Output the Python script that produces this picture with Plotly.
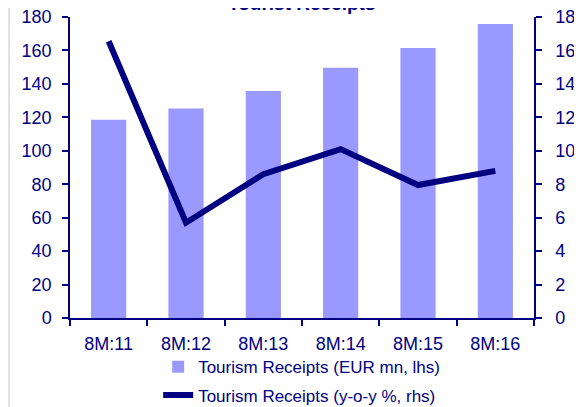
import plotly.graph_objects as go

categories = ["8M:11", "8M:12", "8M:13", "8M:14", "8M:15", "8M:16"]
receipts_eur_mn = [118.5, 125.3, 135.8, 149.6, 161.4, 175.8]
receipts_yoy_pct = [16.55, 5.7, 8.6, 10.1, 7.95, 8.8]

navy = "#000080"
font_family = "Liberation Sans, Arial, sans-serif"

fig = go.Figure()
fig.add_trace(go.Bar(
    x=categories, y=receipts_eur_mn,
    name="Tourism Receipts (EUR mn, lhs)",
    marker=dict(color="#9999FF", line=dict(width=0)),
    yaxis="y", legendgroup="a",
))
fig.add_trace(go.Scatter(
    x=categories, y=receipts_yoy_pct,
    name="Tourism Receipts (y-o-y %, rhs)",
    mode="lines",
    line=dict(color=navy, width=6),
    yaxis="y2", legendgroup="b",
))

axis_common = dict(
    showgrid=False, zeroline=False, automargin=False,
    showline=True, linecolor=navy, linewidth=1.5,
    ticks="outside", tickcolor=navy, tickwidth=1.5, ticklen=6,
    ticklabeloverflow="allow",
    tickfont=dict(family=font_family, size=18, color=navy),
)

fig.update_layout(
    width=574, height=399,
    margin=dict(l=62, r=48, t=9, b=89, autoexpand=False),
    paper_bgcolor="white", plot_bgcolor="white",
    font=dict(family=font_family, size=18, color=navy),
    bargap=0.545,
    showlegend=True,
    legend=dict(orientation="v", x=0.19, xanchor="left", y=-0.104, yanchor="top",
                bgcolor="rgba(0,0,0,0)", font=dict(family=font_family, size=17, color=navy),
                tracegroupgap=3),
    xaxis=dict(**axis_common, tickson="boundaries", ticklabelstandoff=9),
    yaxis=dict(**axis_common, range=[0, 180], dtick=20, ticklabelstandoff=7),
    yaxis2=dict(**axis_common, range=[0, 18], dtick=2, overlaying="y", side="right",
                ticklabelstandoff=10),
    annotations=[dict(text="<b>Tourist Receipts</b>", xref="paper", yref="paper",
                      x=0.498, y=1, xanchor="center", yanchor="middle", yshift=14,
                      showarrow=False,
                      font=dict(family=font_family, size=19, color=navy))],
    shapes=[dict(type="line", xref="paper", yref="paper",
                 x0=-0.1315, x1=-0.1315, y0=-0.3, y1=1.06,
                 line=dict(color="#d9d9d9", width=1.5))],
)

fig.write_html("out.html")
